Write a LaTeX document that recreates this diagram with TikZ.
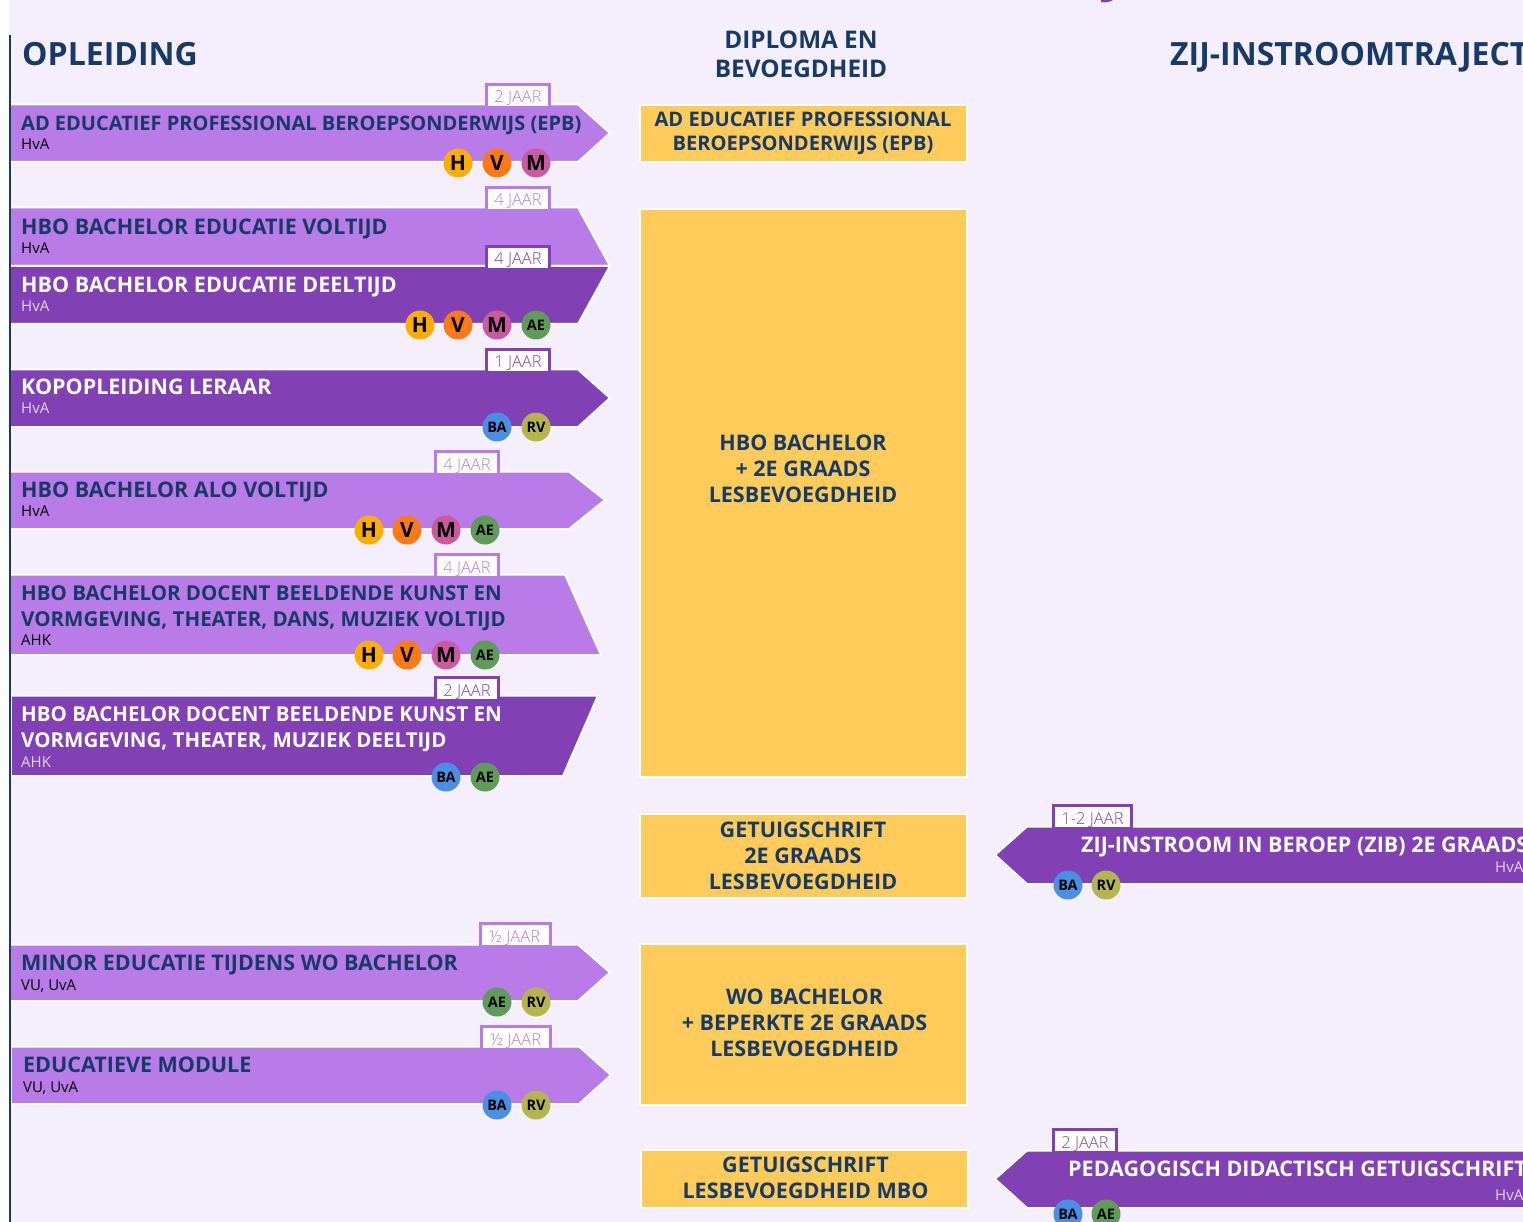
\documentclass[tikz,border=0pt]{standalone}
\usepackage{fontspec}
\setmainfont{Open Sans}
\newfontfamily\lightfont{Open Sans Light}
\definecolor{bg_col}{HTML}{F5EEFC}
\definecolor{navy_col}{HTML}{173A66}
\definecolor{light_col}{HTML}{B87BE8}
\definecolor{dark_col}{HTML}{8240B5}
\definecolor{box_col}{HTML}{FFCB5B}
\definecolor{h_col}{HTML}{FFAE00}
\definecolor{v_col}{HTML}{FD7A16}
\definecolor{m_col}{HTML}{C95AA0}
\definecolor{ae_col}{HTML}{5F9C59}
\definecolor{ba_col}{HTML}{4A90E2}
\definecolor{rv_col}{HTML}{B5B550}
\tikzset{ head_style/.style = { inner sep=0pt % column heads
        , font = \fontsize{32}{32}\selectfont\bfseries
        , text = navy_col
        }
        , mid_head_style/.style = { inner sep=0pt
        , align = center
        , font = \fontsize{24.3}{29}\selectfont\bfseries
        , text = navy_col
        }
        , arrow_light_style/.style = { fill=light_col, draw=white, line width=2pt, line join=miter }
        , arrow_dark_style/.style = { fill=dark_col, draw=white, line width=2pt, line join=miter }
        , fs/.style = { font = \fontsize{#1}{26}\selectfont\bfseries }
        , title_style/.style = { anchor=base west, inner sep=0pt
        , align = left
        , fs = 21.5
        , text = navy_col
        }
        , title_dark_style/.style = { title_style, text=white }
        , sub_style/.style = { anchor=base west, inner sep=0pt
        , font = \fontsize{15}{15}\selectfont
        , text = black
        }
        , sub_dark_style/.style = { sub_style, text=bg_col!85!dark_col }
        , box_style/.style = { fill=box_col, draw=white, line width=2pt, inner sep=0pt, minimum width=327pt }
        , box_text_style/.style = { inner sep=0pt
        , align = center
        , fs = 21.5
        , text = navy_col
        }
        , tag_style/.style = { fill=white, line width=3pt, inner sep=0pt, minimum height=23.5pt
        , text height=15pt, text depth=1pt
        , font = \fontsize{16.5}{17}\selectfont\lightfont
        }
        , tag_light_style/.style = { tag_style, draw=light_col, text=light_col }
        , tag_dark_style/.style = { tag_style, draw=dark_col, text=dark_col }
        , big_dot/.style = { circle, minimum size=29pt, inner sep=0pt, text=black
        , font = \fontsize{21}{21}\selectfont\bfseries
        }
        , small_dot/.style = { big_dot, font = \fontsize{14.5}{14.5}\selectfont\bfseries }
        }
\begin{document}
\begin{tikzpicture}[x=1pt,y=-1pt]
        \useasboundingbox (0,0) rectangle (1523,1222);
        \fill [bg_col] (8.5,0) rectangle (1523,1222);
        \fill [dark_col] (1101,0) -- (1113,0) .. controls (1110,2) and (1105,3) .. (1101,2) -- cycle;

        % column heads
        \node [head_style,anchor=base west] (head1) at (22,65.5) {OPLEIDING};
        \node [mid_head_style] (head2) at (801,54) {DIPLOMA EN\\BEVOEGDHEID};
        \node [head_style,anchor=base west] (head3) at (1170,65.5) {ZIJ-INSTROOMTRAJECT};

        % diploma boxes
        \node [box_style,minimum height=57.5pt] (box1) at (803,133.5) {};
        \node [box_style,minimum height=567pt] (box2) at (803,493) {};
        \node [box_style,minimum height=84pt] (box3) at (803,856) {};
        \node [box_style,minimum height=161pt] (box4) at (803,1024) {};
        \node [box_style,minimum height=57.5pt] (box5) at (804,1179) {};
        \node [box_text_style,fs=20.1] (lbl1) at (803,133.5) {AD EDUCATIEF PROFESSIONAL\\[-2pt]BEROEPSONDERWIJS (EPB)};
        \node [box_text_style] (lbl2) at (803,469) {HBO BACHELOR\\+ 2E GRAADS\\LESBEVOEGDHEID};
        \node [box_text_style] (lbl3) at (803,856) {GETUIGSCHRIFT\\2E GRAADS\\LESBEVOEGDHEID};
        \node [box_text_style] (lbl4) at (804.5,1023) {WO BACHELOR\\+ BEPERKTE 2E GRAADS\\LESBEVOEGDHEID};
        \node [box_text_style] (lbl5) at (805.5,1178) {GETUIGSCHRIFT\\LESBEVOEGDHEID MBO};

        % arrows
        \draw [arrow_light_style] (10,104.5) -- (578,104.5) -- (610,133) -- (578,162) -- (10,162);
        \draw [arrow_light_style] (10,207.5) -- (578,207.5) -- (610,266) -- (10,266);
        \draw [arrow_dark_style] (10,266) -- (610,266) -- (578,324) -- (10,324);
        \draw [arrow_dark_style] (10,369.5) -- (578,369.5) -- (610,398) -- (578,427) -- (10,427);
        \draw [arrow_light_style] (10,471.5) -- (569,471.5) -- (605,500) -- (569,529) -- (10,529);
        \draw [arrow_light_style] (10,574.5) -- (565,574.5) -- (601,655) -- (10,655);
        \draw [arrow_dark_style] (12,695.5) -- (598,695.5) -- (563,776) -- (12,776);
        \draw [arrow_light_style] (10,944.5) -- (578,944.5) -- (610,972.5) -- (578,1001) -- (10,1001);
        \draw [arrow_light_style] (12,1046.5) -- (579,1046.5) -- (611,1075) -- (579,1104) -- (12,1104);
        \draw [arrow_dark_style] (1525,826.5) -- (1027,826.5) -- (995,855) -- (1027,884) -- (1525,884);
        \draw [arrow_dark_style] (1525,1150.5) -- (1027,1150.5) -- (995,1179) -- (1027,1208) -- (1525,1208);
        \fill [navy_col] (8.5,35) rectangle (11,1222);

        % arrow texts
        \node [title_style,fs=20] (a1) at (21,131) {AD EDUCATIEF PROFESSIONAL BEROEPSONDERWIJS (EPB)};
        \node [sub_style] (s1) at (21,149.5) {HvA};
        \node [title_style] (a2) at (21,235) {HBO BACHELOR EDUCATIE VOLTIJD};
        \node [sub_style] (s2) at (21,253.5) {HvA};
        \node [title_dark_style] (a3) at (21,293) {HBO BACHELOR EDUCATIE DEELTIJD};
        \node [sub_dark_style] (s3) at (21,311.5) {HvA};
        \node [title_dark_style] (a4) at (21,395) {KOPOPLEIDING LERAAR};
        \node [sub_dark_style] (s4) at (21,413.5) {HvA};
        \node [title_style] (a5) at (21,497) {HBO BACHELOR ALO VOLTIJD};
        \node [sub_style] (s5) at (21,516) {HvA};
        \node [title_style,fs=20.5] (a6) at (21,626) {HBO BACHELOR DOCENT BEELDENDE KUNST EN\\VORMGEVING, THEATER, DANS, MUZIEK VOLTIJD};
        \node [sub_style] (s6) at (21,645) {AHK};
        \node [title_dark_style,fs=20.5] (a7) at (21,747) {HBO BACHELOR DOCENT BEELDENDE KUNST EN\\VORMGEVING, THEATER, MUZIEK DEELTIJD};
        \node [sub_dark_style] (s7) at (21,767) {AHK};
        \node [title_style] (a8) at (21,970) {MINOR EDUCATIE TIJDENS WO BACHELOR};
        \node [sub_style] (s8) at (21,990) {VU, UvA};
        \node [title_style] (a9) at (23,1072) {EDUCATIEVE MODULE};
        \node [sub_style] (s9) at (23,1092) {VU, UvA};
        \node [title_dark_style] (a10) at (1081,852) {ZIJ-INSTROOM IN BEROEP (ZIB) 2E GRAADS};
        \node [sub_dark_style] (s10) at (1495,872) {HvA};
        \node [title_dark_style] (a11) at (1068,1176) {PEDAGOGISCH DIDACTISCH GETUIGSCHRIFT};
        \node [sub_dark_style] (s11) at (1495,1200) {HvA};

        % duration tags
        \node [tag_light_style,minimum width=63pt] (t1) at (518,96) {2 JAAR};
        \node [tag_light_style,minimum width=63pt] (t2) at (518,199) {4 JAAR};
        \node [tag_dark_style,minimum width=63pt] (t3) at (518,258) {4 JAAR};
        \node [tag_dark_style,minimum width=63pt] (t4) at (518,361) {1 JAAR};
        \node [tag_light_style,minimum width=63pt] (t5) at (467,463) {4 JAAR};
        \node [tag_light_style,minimum width=63pt] (t6) at (467,566) {4 JAAR};
        \node [tag_dark_style,minimum width=63pt] (t7) at (467,689) {2 JAAR};
        \node [tag_dark_style,minimum width=78pt] (t8) at (1092.5,817) {1-2 JAAR};
        \node [tag_light_style,minimum width=70pt] (t9) at (515,935) {½ JAAR};
        \node [tag_light_style,minimum width=69pt] (t10) at (516,1038) {½ JAAR};
        \node [tag_dark_style,minimum width=63pt] (t11) at (1085,1141) {2 JAAR};

        % level dots
        \node [big_dot,fill=h_col] (d1) at (458,163) {H};
        \node [big_dot,fill=v_col] (d2) at (497,163) {V};
        \node [big_dot,fill=m_col] (d3) at (536,163) {M};
        \node [big_dot,fill=h_col] (d4) at (420,325) {H};
        \node [big_dot,fill=v_col] (d5) at (458,325) {V};
        \node [big_dot,fill=m_col] (d6) at (497,325) {M};
        \node [small_dot,fill=ae_col] (d7) at (536,325) {AE};
        \node [small_dot,fill=ba_col] (d8) at (497,427) {BA};
        \node [small_dot,fill=rv_col] (d9) at (536,427) {RV};
        \node [big_dot,fill=h_col] (d10) at (369,530) {H};
        \node [big_dot,fill=v_col] (d11) at (407,530) {V};
        \node [big_dot,fill=m_col] (d12) at (446,530) {M};
        \node [small_dot,fill=ae_col] (d13) at (485,530) {AE};
        \node [big_dot,fill=h_col] (d14) at (369,655) {H};
        \node [big_dot,fill=v_col] (d15) at (407,655) {V};
        \node [big_dot,fill=m_col] (d16) at (446,655) {M};
        \node [small_dot,fill=ae_col] (d17) at (485,655) {AE};
        \node [small_dot,fill=ba_col] (d18) at (446,777) {BA};
        \node [small_dot,fill=ae_col] (d19) at (485,777) {AE};
        \node [small_dot,fill=ae_col] (d20) at (497,1002) {AE};
        \node [small_dot,fill=rv_col] (d21) at (536,1002) {RV};
        \node [small_dot,fill=ba_col] (d22) at (497,1105) {BA};
        \node [small_dot,fill=rv_col] (d23) at (536,1105) {RV};
        \node [small_dot,fill=ba_col] (d24) at (1068,885) {BA};
        \node [small_dot,fill=rv_col] (d25) at (1106,885) {RV};
        \node [small_dot,fill=ba_col] (d26) at (1068,1214) {BA};
        \node [small_dot,fill=ae_col] (d27) at (1106,1214) {AE};
\end{tikzpicture}
\end{document}
